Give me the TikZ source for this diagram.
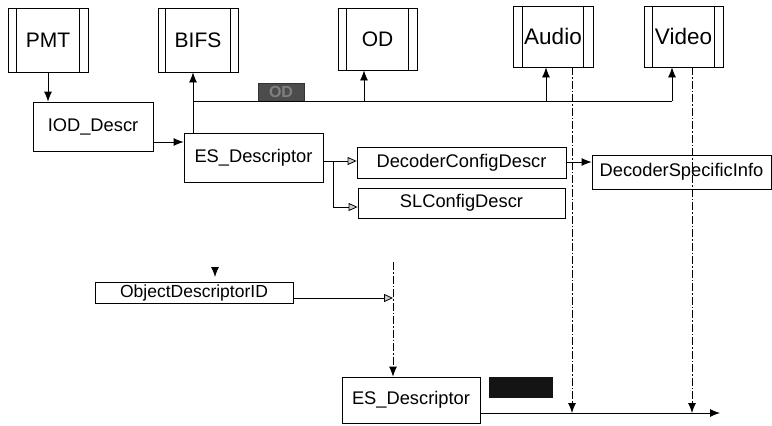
\documentclass[tikz,border=0pt]{standalone}
\usepackage{fontspec}
\setmainfont{Liberation Sans}
\usetikzlibrary{arrows.meta}
\begin{document}
\begin{tikzpicture}[x=1pt,y=-1pt,
  box/.style={draw, line width=0.8pt, fill=white, inner sep=0pt, font=\fontsize{18.3}{20}\selectfont},
  tbox/.style={box, font=\fontsize{21}{23}\selectfont},
  fa/.style={-{Latex[length=10pt,width=8pt]}},
  oa/.style={-{Triangle[open,length=9pt,width=8pt,fill=gray!40]}},
  dd/.style={dash pattern=on 8pt off 2pt on 1.5pt off 2pt},
  ln/.style={line width=0.8pt}]
\useasboundingbox (0,0) rectangle (772,426);
% top double-bar boxes
\node[tbox, minimum width=80pt, minimum height=64pt] (pmt) at (48,40) {PMT};
\node[tbox, minimum width=80pt, minimum height=64pt] (bifs) at (198,40) {BIFS};
\node[tbox, minimum width=79pt, minimum height=62pt] (od) at (377.5,39) {OD};
\node[tbox, minimum width=80pt, minimum height=61pt, font=\fontsize{22.5}{24}\selectfont] (audio) at (553,36.5) {Audio};
\node[tbox, minimum width=79pt, minimum height=61pt, font=\fontsize{22.5}{24}\selectfont] (video) at (683.5,36.5) {Video};
\foreach \n/\d in {pmt/9,bifs/8,od/9,audio/10,video/9}{
  \draw[ln] ([xshift=\d pt]\n.north west) -- ([xshift=\d pt]\n.south west);
  \draw[ln] ([xshift=-\d pt]\n.north east) -- ([xshift=-\d pt]\n.south east);
}
% descriptor boxes
\node[box, minimum width=120pt, minimum height=49pt] (iod) at (93,126.5) {IOD\_Descr};
\node[box, minimum width=139pt, minimum height=49pt] (es1) at (253.5,157.5) {ES\_Descriptor};
\node[box, minimum width=209pt, minimum height=31pt] (dcd) at (461.5,162.5) {DecoderConfigDescr};
\node[box, minimum width=207pt, minimum height=30pt] (sl) at (461.5,203) {SLConfigDescr};
\node[box, minimum width=179pt, minimum height=34pt] (dsi) at (681.5,172) {DecoderSpecificInfo};
\node[box, minimum width=198pt, minimum height=21pt, font=\fontsize{17.5}{19}\selectfont] (odid) at (194,292.5) {ObjectDescriptorID};
\node[box, minimum width=138pt, minimum height=46pt] (es2) at (411,400) {ES\_Descriptor};
% label boxes
\node[draw=black!80, fill=black!70, text=black!50, minimum width=46pt, minimum height=18pt, inner sep=0pt, font=\fontsize{16}{16}\selectfont\bfseries] (odlab) at (281,92) {OD};
\node[fill=black!92, minimum width=64pt, minimum height=21pt, inner sep=0pt] (blk) at (521,387.5) {};
% coordinates
\coordinate (bus0) at (193,101);
\coordinate (bus1) at (672,101);
\coordinate (br) at (333,161);
\coordinate (t1) at (215,267);
\coordinate (t2) at (215,277);
\coordinate (j) at (393,298);
\coordinate (jtop) at (393,262);
\coordinate (endb) at (720,413);
% connectors
\draw[ln,fa] (pmt.south) -- (pmt.south |- iod.north);
\draw[ln,fa] (iod.east |- 0,142) -- (es1.west |- 0,142);
\draw[ln,fa] (es1.north -| bus0) -- (bifs.south -| bus0);
\draw[ln] (bus0) -- (bus1);
\draw[ln,fa] (bus1) -- (video.south -| bus1);
\draw[ln,fa] (364,101) -- (od.south -| 364,0);
\draw[ln,fa] (546,101) -- (audio.south -| 546,0);
\draw[ln,dd,fa] (audio.south -| 572,0) -- (572,413);
\draw[ln,dd,fa] (video.south -| 692,0) -- (692,413);
\draw[ln] (es1.east |- br) -- (br);
\draw[ln,oa] (br) -- (dcd.west |- br);
\draw[ln,oa] (br) |- (sl.west |- 0,207);
\draw[ln,fa] (dcd.east |- 0,162) -- (dsi.west |- 0,162);
\draw[ln,fa] (t1) -- (t2);
\draw[ln,oa] (odid.east |- j) -- (j);
\draw[ln,dd,fa] (jtop) -- (es2.north -| jtop);
\draw[ln,fa] (es2.east |- endb) -- (endb);
\end{tikzpicture}
\end{document}
